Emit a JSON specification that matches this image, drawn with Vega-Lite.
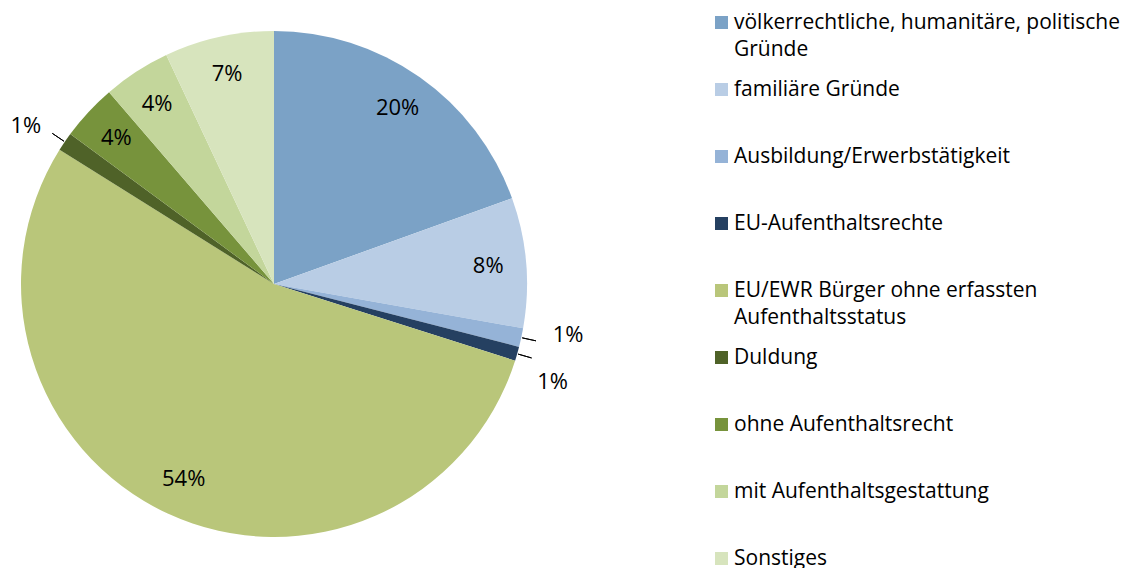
{
  "$schema": "https://vega.github.io/schema/vega-lite/v6.json",
  "width": 548,
  "height": 568,
  "autosize": {"type": "none"},
  "padding": {"left": 0, "top": 0, "right": 575, "bottom": 0},
  "background": "white",
  "config": {"view": {"stroke": null}},
  "data": {
    "values": [
      {"category": "völkerrechtliche, humanitäre, politische Gründe", "value": 19.5, "label": "20%", "order": 1},
      {"category": "familiäre Gründe", "value": 8.3, "label": "8%", "order": 2},
      {"category": "Ausbildung/Erwerbstätigkeit", "value": 1.2, "label": "1%", "order": 3},
      {"category": "EU-Aufenthaltsrechte", "value": 0.9, "label": "1%", "order": 4},
      {"category": "EU/EWR Bürger ohne erfassten Aufenthaltsstatus", "value": 54.0, "label": "54%", "order": 5},
      {"category": "Duldung", "value": 1.2, "label": "1%", "order": 6},
      {"category": "ohne Aufenthaltsrecht", "value": 3.6, "label": "4%", "order": 7},
      {"category": "mit Aufenthaltsgestattung", "value": 4.3, "label": "4%", "order": 8},
      {"category": "Sonstiges", "value": 7.0, "label": "7%", "order": 9}
    ]
  },
  "encoding": {
    "theta": {"field": "value", "type": "quantitative", "stack": true},
    "order": {"field": "order", "type": "quantitative"}
  },
  "layer": [
    {
      "mark": {"type": "arc", "radius": 253},
      "encoding": {
        "color": {
          "field": "category",
          "type": "nominal",
          "scale": {
            "domain": ["völkerrechtliche, humanitäre, politische Gründe", "familiäre Gründe", "Ausbildung/Erwerbstätigkeit", "EU-Aufenthaltsrechte", "EU/EWR Bürger ohne erfassten Aufenthaltsstatus", "Duldung", "ohne Aufenthaltsrecht", "mit Aufenthaltsgestattung", "Sonstiges"],
            "range": ["#7BA2C6", "#B9CDE5", "#95B3D7", "#254061", "#B9C67A", "#4F6228", "#77933C", "#C3D69B", "#D7E4BD"]
          },
          "legend": {
            "title": null,
            "orient": "none",
            "legendX": 711,
            "legendY": 12,
            "padding": 0,
            "symbolType": "square",
            "symbolSize": 169,
            "symbolStrokeWidth": 0,
            "labelFont": "Open Sans",
            "labelFontSize": 21,
            "labelColor": "#000000",
            "labelOffset": 2,
            "labelLimit": 600,
            "rowPadding": 18,
            "gridAlign": "all",
            "labelExpr": "datum.label == 'völkerrechtliche, humanitäre, politische Gründe' ? ['völkerrechtliche, humanitäre, politische', 'Gründe'] : datum.label == 'EU/EWR Bürger ohne erfassten Aufenthaltsstatus' ? ['EU/EWR Bürger ohne erfassten', 'Aufenthaltsstatus'] : datum.label",
            "encode": {"labels": {"update": {"lineHeight": {"value": 27}}}}
          }
        }
      }
    },
    {
      "mark": {"type": "arc", "radius": 268, "radius2": 254, "padAngle": 0.3, "fill": "transparent", "stroke": "#000000", "strokeWidth": 1},
      "encoding": {
        "detail": {"field": "category"},
        "strokeOpacity": {"condition": {"test": "datum.value < 2", "value": 1}, "value": 0}
      }
    },
    {
      "mark": {"type": "text", "radius": 215, "font": "Open Sans", "fontSize": 22, "fill": "#000000"},
      "encoding": {
        "detail": {"field": "category"},
        "text": {"condition": {"test": "datum.value >= 2", "field": "label"}, "value": ""}
      }
    },
    {
      "mark": {"type": "text", "radius": 301, "dy": -13, "font": "Open Sans", "fontSize": 22, "fill": "#000000"},
      "encoding": {
        "detail": {"field": "category"},
        "text": {"condition": {"test": "datum.category == 'Ausbildung/Erwerbstätigkeit'", "field": "label"}, "value": ""}
      }
    },
    {
      "mark": {"type": "text", "radius": 294, "dy": 17, "dx": -4, "font": "Open Sans", "fontSize": 22, "fill": "#000000"},
      "encoding": {
        "detail": {"field": "category"},
        "text": {"condition": {"test": "datum.category == 'EU-Aufenthaltsrechte'", "field": "label"}, "value": ""}
      }
    },
    {
      "mark": {"type": "text", "radius": 294, "dy": 7, "dx": -5, "font": "Open Sans", "fontSize": 22, "fill": "#000000"},
      "encoding": {
        "detail": {"field": "category"},
        "text": {"condition": {"test": "datum.category == 'Duldung'", "field": "label"}, "value": ""}
      }
    }
  ]
}
